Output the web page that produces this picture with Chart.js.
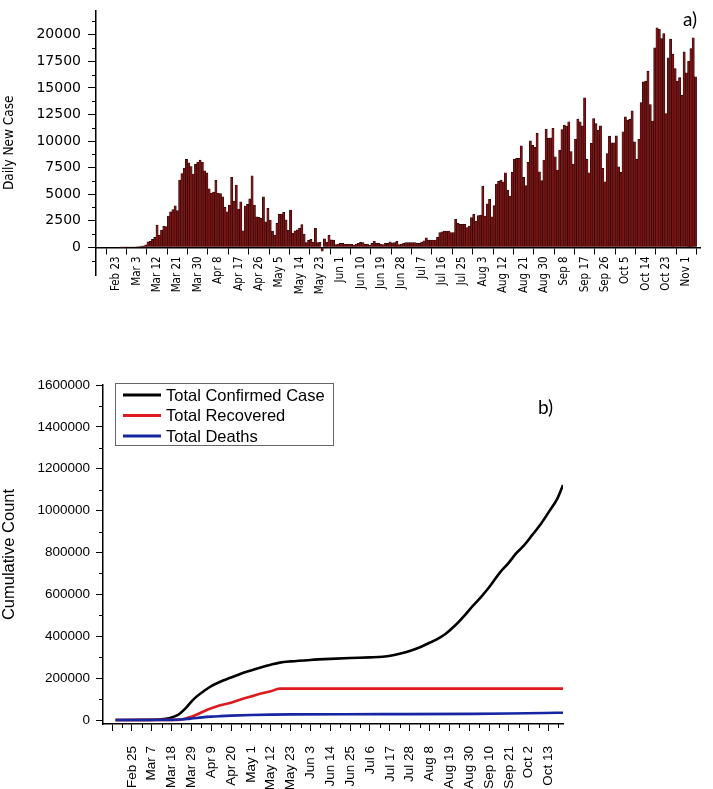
<!DOCTYPE html>
<html>
<head>
<meta charset="utf-8">
<script src="https://cdn.jsdelivr.net/npm/chart.js@4.4.0/dist/chart.umd.min.js"></script>
<style>
  html, body { margin: 0; padding: 0; background: #fff; }
  #wrap { position: relative; width: 713px; height: 789px; overflow: hidden; }
  .panel { position: absolute; left: 0; }
</style>
</head>
<body>
<div id="wrap">
  <div class="panel" style="top:0"><canvas id="dailyChart" width="713" height="320"></canvas></div>
  <div class="panel" style="top:320px"><canvas id="cumChart" width="713" height="469"></canvas></div>
</div>
<script>
// ============================================================
// a) daily new cases (bars)   b) cumulative counts (lines)
// x values are day numbers, day 0 = Feb 14
// ============================================================

// ---- a) daily new cases, one value per day from day 0 ----
const dailyCases = [
  0, 0, 0, 0, 0, 0, 0, 0, 0, 0,
  0, 2, 5, 10, 15, 20, 30, 45, 60, 80,
  110, 150, 230, 530, 560, 750, 940, 2100, 1150, 1620,
  2000, 1950, 2940, 3350, 3550, 3910, 3450, 6330, 6950, 7450,
  8270, 7960, 7600, 6900, 7800, 8000, 8200, 8000, 7200, 7000,
  5500, 5100, 5200, 6300, 5100, 5070, 4760, 3760, 3350, 3980,
  6580, 4350, 5860, 3600, 4290, 1560, 3890, 4040, 4570, 6730,
  3980, 2880, 2820, 2720, 4760, 2410, 3660, 2570, 1530, 1150,
  2250, 3100, 3130, 3290, 2600, 1600, 3500, 1350, 1550, 1650,
  1800, 2150, 1250, 450, 650, 750, 500, 1800, 450, 480,
  -370, 800, 480, 1120, 700, 690, 250, 320, 375, 375,
  310, 280, 310, 280, 220, 310, 375, 470, 440, 280,
  310, 220, 375, 600, 375, 375, 310, 250, 375, 375,
  530, 420, 440, 560, 250, 310, 375, 440, 440, 440,
  440, 440, 400, 375, 500, 620, 900, 690, 690, 690,
  690, 940, 1380, 1470, 1530, 1530, 1530, 1380, 1380, 2630,
  2260, 2160, 2160, 2160, 1850, 2000, 2790, 3100, 2480, 2980,
  3040, 5760, 2950, 4100, 4520, 2880, 3920, 5950, 6200, 6330,
  6170, 7020, 5390, 4830, 7050, 8300, 8370, 8370, 9560, 6580,
  5800, 7990, 10030, 9590, 9400, 10720, 7110, 6270, 8210, 11120,
  10250, 10310, 11190, 8520, 7270, 9150, 11090, 11500, 11400, 11810,
  9020, 7830, 10180, 12060, 11810, 11440, 14070, 8300, 7020, 9780,
  12120, 11650, 11030, 11430, 7430, 6170, 8830, 10460, 9840, 9840,
  10500, 7580, 7050, 10870, 12280, 11970, 12060, 12850, 9930, 8300,
  10150, 13630, 15570, 15630, 16570, 13440, 11870, 18770, 20650, 20520,
  19640, 20110, 12590, 17830, 19580, 18170, 16820, 15630, 15980, 14320,
  18390, 16420, 17510, 18700, 19710, 16040
];
const dailyTickDays = [0, 9, 18, 27, 36, 45, 54, 63, 72, 81, 90, 99, 108, 117, 126,
  135, 144, 153, 162, 171, 180, 189, 198, 207, 216, 225, 234, 243, 252, 261];
const dailyTickLabels = ['', 'Feb 23', 'Mar 3', 'Mar 12', 'Mar 21', 'Mar 30', 'Apr 8', 'Apr 17',
  'Apr 26', 'May 5', 'May 14', 'May 23', 'Jun 1', 'Jun 10', 'Jun 19', 'Jun 28', 'Jul 7',
  'Jul 16', 'Jul 25', 'Aug 3', 'Aug 12', 'Aug 21', 'Aug 30', 'Sep 8', 'Sep 17', 'Sep 26',
  'Oct 5', 'Oct 14', 'Oct 23', 'Nov 1'];
const dailyYTicks = [0, 2500, 5000, 7500, 10000, 12500, 15000, 17500, 20000];
const dailyYMinor = [-1250, 1250, 3750, 6250, 8750, 11250, 13750, 16250, 18750, 21250];

// ---- b) cumulative totals, read at sample days ----
const confirmedDays = [2, 22, 30, 33, 36, 38, 41, 44, 47, 51, 55, 60, 66, 71, 77, 82, 88, 93,
  99, 110, 121, 132, 143, 150, 155, 160, 165, 170, 176, 180, 185, 190, 196, 200, 205, 210,
  215, 220, 224, 228, 233, 238, 243, 247, 250];
const confirmedTotals = [0, 800, 6000, 12000, 22000, 34000, 58000, 88000, 113000, 139000,
  162000, 183000, 203000, 220000, 237000, 250000, 264000, 274000, 280000, 287000,
  292000, 296000, 299000, 302000, 308000, 318000, 330000, 345000, 369000, 385000,
  412000, 450000, 505000, 545000, 592000, 645000, 704000, 752000, 796000, 830000,
  884000, 940000, 1005000, 1060000, 1123000];
const recoveredDays = [2, 36, 40, 44, 48, 51, 55, 60, 66, 71, 77, 82, 88, 93, 250];
const recoveredTotals = [0, 500, 5000, 16000, 30000, 42000, 56000, 70000, 83000, 97000,
  112000, 125000, 137000, 150000, 150000];
const deathDays = [2, 33, 38, 44, 50, 55, 60, 66, 77, 88, 99, 150, 200, 220, 240, 250];
const deathTotals = [0, 500, 2500, 7000, 12500, 16000, 18500, 21000, 24000, 26000, 27000,
  28000, 29500, 31000, 33500, 35000];

const cumTickDays = [0, 11, 22, 33, 44, 55, 66, 77, 88, 99, 110, 121, 132, 143, 154, 165,
  176, 187, 198, 209, 220, 231, 242];
const cumTickLabels = ['', 'Feb 25', 'Mar 7', 'Mar 18', 'Mar 29', 'Apr 9', 'Apr 20', 'May 1',
  'May 12', 'May 23', 'Jun 3', 'Jun 14', 'Jun 25', 'Jul 6', 'Jul 17', 'Jul 28', 'Aug 8',
  'Aug 19', 'Aug 30', 'Sep 10', 'Sep 21', 'Oct 2', 'Oct 13'];
const cumXMinor = [5.5, 16.5, 27.5, 38.5, 49.5, 60.5, 71.5, 82.5, 93.5, 104.5, 115.5, 126.5,
  137.5, 148.5, 159.5, 170.5, 181.5, 192.5, 203.5, 214.5, 225.5, 236.5, 247.5];
const cumYTicks = [0, 200000, 400000, 600000, 800000, 1000000, 1200000, 1400000, 1600000];
const cumYMinor = [100000, 300000, 500000, 700000, 900000, 1100000, 1300000, 1500000];

const ARIAL = "'Liberation Sans', Arial, sans-serif";
const NARROW = "'Liberation Sans Narrow', 'Arial Narrow', 'DejaVu Sans Condensed', sans-serif";

// short minor ticks, placed with the scale itself
const minorTicks = {
  id: 'minorTicks',
  afterDraw(chart, args, opts) {
    const ctx = chart.ctx;
    ctx.save();
    ctx.strokeStyle = '#000';
    ctx.lineWidth = 1;
    (opts.items || []).forEach(item => {
      const scale = chart.scales[item.scale];
      item.values.forEach(v => {
        const p = Math.round(scale.getPixelForValue(v)) + 0.5;
        ctx.beginPath();
        if (scale.isHorizontal()) {
          const y0 = chart.chartArea.bottom;
          ctx.moveTo(p, y0);
          ctx.lineTo(p, y0 + item.length);
        } else {
          const x0 = chart.chartArea.left;
          ctx.moveTo(x0, p);
          ctx.lineTo(x0 - item.length, p);
        }
        ctx.stroke();
      });
    });
    ctx.restore();
  }
};

// panel letter a) / b)
const panelTag = {
  id: 'panelTag',
  afterDraw(chart, args, opts) {
    const ctx = chart.ctx;
    ctx.save();
    ctx.font = "19px Lato, 'Open Sans', sans-serif";
    ctx.fillStyle = '#000';
    ctx.textBaseline = 'alphabetic';
    ctx.fillText(opts.text, opts.x, opts.y);
    ctx.restore();
  }
};

// boxed legend of panel b
const boxLegend = {
  id: 'boxLegend',
  afterDraw(chart, args, opts) {
    const ctx = chart.ctx;
    ctx.save();
    ctx.strokeStyle = '#666';
    ctx.lineWidth = 1;
    ctx.strokeRect(opts.x + 0.5, opts.y + 0.5, opts.w, opts.h);
    ctx.font = '16.5px ' + ARIAL;
    ctx.textBaseline = 'middle';
    ctx.fillStyle = '#000';
    chart.data.datasets.forEach((ds, i) => {
      const cy = opts.y + 12 + i * 20.5;
      ctx.strokeStyle = ds.borderColor;
      ctx.lineWidth = 3;
      ctx.beginPath();
      ctx.moveTo(opts.x + 8, cy);
      ctx.lineTo(opts.x + 46, cy);
      ctx.stroke();
      ctx.fillText(ds.label, opts.x + 51, cy + 1);
    });
    ctx.restore();
  }
};

Chart.register(minorTicks, panelTag, boxLegend);

function labelFor(days, labels) {
  return v => {
    const i = days.indexOf(v);
    return i < 0 ? '' : labels[i];
  };
}

// a) Daily new cases
new Chart(document.getElementById('dailyChart'), {
  type: 'bar',
  data: {
    datasets: [{
      label: 'Daily New Case',
      data: dailyCases.map((v, i) => ({ x: i, y: v })),
      backgroundColor: '#7a1414',
      borderColor: '#220404',
      borderWidth: 0.6,
      barPercentage: 1,
      categoryPercentage: 1,
    }],
  },
  options: {
    responsive: false,
    animation: false,
    devicePixelRatio: 1,
    // x axis sits on y = 0 and takes no layout room, so the bottom is set here
    layout: { padding: { top: 10, right: 13, bottom: 45, left: 0 } },
    plugins: {
      legend: { display: false },
      tooltip: { enabled: false },
      minorTicks: { items: [{ scale: 'y', values: dailyYMinor, length: 4 }] },
      panelTag: { text: 'a)', x: 683, y: 26 },
      boxLegend: false,
    },
    scales: {
      x: {
        type: 'linear',
        min: 0,
        max: 267,
        offset: false,
        position: { y: 0 },
        afterBuildTicks: s => { s.ticks = dailyTickDays.map(v => ({ value: v })); },
        ticks: {
          autoSkip: false,
          minRotation: 90,
          maxRotation: 90,
          padding: 3,
          color: '#000',
          font: { family: NARROW, size: 11.5 },
          callback: labelFor(dailyTickDays, dailyTickLabels),
        },
        grid: { drawOnChartArea: false, tickLength: 6, tickColor: '#000', tickWidth: 1 },
        border: { color: '#000', width: 1.5 },
      },
      y: {
        min: -2600,
        max: 22280,
        afterBuildTicks: s => { s.ticks = dailyYTicks.map(v => ({ value: v })); },
        afterFit: s => { s.width = 96; },
        ticks: {
          padding: 7,
          color: '#000',
          font: { family: "'DejaVu Sans', sans-serif", size: 14, lineHeight: 0.5 },
          callback: v => String(v),
        },
        title: {
          display: true,
          text: 'Daily New Case',
          color: '#000',
          font: { family: NARROW, size: 13.5 },
          padding: { top: 1, bottom: 0 },
        },
        grid: { drawOnChartArea: false, tickLength: 8, tickColor: '#000', tickWidth: 1 },
        border: { color: '#000', width: 1.5 },
      },
    },
  },
});

// b) Cumulative counts
const toPoints = (days, vals) => days.map((d, i) => ({ x: d, y: vals[i] }));

new Chart(document.getElementById('cumChart'), {
  type: 'line',
  data: {
    datasets: [
      {
        label: 'Total Confirmed Case',
        data: toPoints(confirmedDays, confirmedTotals),
        borderColor: '#000000',
        borderWidth: 2.6,
        pointRadius: 0,
        cubicInterpolationMode: 'monotone',
        fill: false,
        order: 2,
      },
      {
        label: 'Total Recovered',
        data: toPoints(recoveredDays, recoveredTotals),
        borderColor: '#dc1a1f',
        borderWidth: 2.6,
        pointRadius: 0,
        cubicInterpolationMode: 'monotone',
        fill: false,
        order: 1,
      },
      {
        label: 'Total Deaths',
        data: toPoints(deathDays, deathTotals),
        borderColor: '#1626a3',
        borderWidth: 2.6,
        pointRadius: 0,
        cubicInterpolationMode: 'monotone',
        fill: false,
        order: 0,
      },
    ],
  },
  options: {
    responsive: false,
    animation: false,
    devicePixelRatio: 1,
    layout: { padding: { top: 65, right: 150, bottom: 0, left: 0 } },
    plugins: {
      legend: { display: false },
      tooltip: { enabled: false },
      minorTicks: {
        items: [
          { scale: 'y', values: cumYMinor, length: 4 },
          { scale: 'x', values: cumXMinor, length: 4 },
        ],
      },
      panelTag: { text: 'b)', x: 538, y: 94 },
      boxLegend: { x: 115, y: 63, w: 218, h: 62 },
    },
    scales: {
      x: {
        type: 'linear',
        min: -5,
        max: 250,
        afterBuildTicks: s => { s.ticks = cumTickDays.map(v => ({ value: v })); },
        afterFit: s => { s.height = 65; },
        ticks: {
          autoSkip: false,
          minRotation: 90,
          maxRotation: 90,
          padding: 15,
          color: '#000',
          font: { family: ARIAL, size: 13.5 },
          callback: labelFor(cumTickDays, cumTickLabels),
        },
        grid: { drawOnChartArea: false, tickLength: 7, tickColor: '#000', tickWidth: 1 },
        border: { color: '#000', width: 1.5 },
      },
      y: {
        min: -19000,
        max: 1600000,
        afterBuildTicks: s => { s.ticks = cumYTicks.map(v => ({ value: v })); },
        afterFit: s => { s.width = 103; },
        ticks: {
          padding: 6,
          color: '#000',
          font: { family: ARIAL, size: 13.5 },
          callback: v => String(v),
        },
        title: {
          display: true,
          text: 'Cumulative Count',
          color: '#000',
          font: { family: ARIAL, size: 16.5 },
          padding: { top: 0, bottom: 0 },
        },
        grid: { drawOnChartArea: false, tickLength: 7, tickColor: '#000', tickWidth: 1 },
        border: { color: '#000', width: 1.5 },
      },
    },
  },
});
</script>
</body>
</html>
